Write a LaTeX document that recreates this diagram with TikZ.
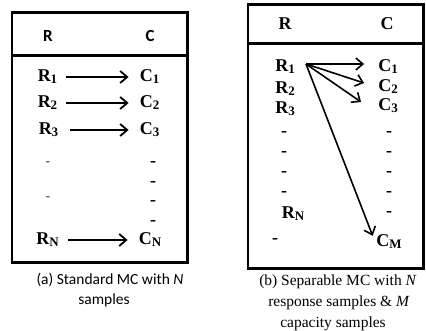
\documentclass[tikz,border=0pt]{standalone}
\usepackage{fontspec}
\setmainfont{Liberation Serif}
\newfontfamily\carlito{Carlito}
\usetikzlibrary{arrows.meta}
\newcommand{\subx}[1]{\raisebox{-0.08em}{\fontsize{13}{13}\selectfont #1}}
\begin{document}
\begin{tikzpicture}[x=1pt,y=-1pt,
  frame/.style={line width=2.6pt},
  lbl/.style={font=\fontsize{18}{18}\selectfont\bfseries, inner sep=0pt, text height=12pt, text depth=0pt},
  hdra/.style={font=\carlito\fontsize{17}{17}\selectfont\bfseries, inner sep=0pt, text height=11pt, text depth=0pt},
  dasha/.style={font=\carlito\fontsize{15}{15}\selectfont, text=black!75, inner sep=0pt, text height=0pt, text depth=0pt, yshift=-3.5pt},
  dashb/.style={font=\fontsize{18}{18}\selectfont\bfseries, inner sep=0pt, text height=0pt, text depth=0pt, yshift=-4pt},
  capa/.style={font=\carlito\fontsize{15.5}{15.5}\selectfont, inner sep=0pt, anchor=base},
  capb/.style={font=\fontsize{15.5}{15.5}\selectfont, inner sep=0pt, anchor=base},
  arr/.style={line width=1.8pt, -{Straight Barb[length=7pt,width=12pt]}}
]
\useasboundingbox (0,0) rectangle (426,331);
% ---------- panel (a) ----------
\draw[frame] (12,12.3) rectangle (187.5,262.7);
\draw[frame] (12,55.5) -- (187.5,55.5);
\node[hdra] (ahr) at (48,36) {R};
\node[hdra] (ahc) at (150,36) {C};
\node[lbl] (ar1) at (47.5,76) {R\subx{1}};
\node[lbl] (ar2) at (47.5,102) {R\subx{2}};
\node[lbl] (ar3) at (48.5,129) {R\subx{3}};
\node[lbl] (arn) at (47.5,239) {R\subx{N}};
\node[lbl] (ac1) at (149.5,76) {C\subx{1}};
\node[lbl] (ac2) at (149.5,102) {C\subx{2}};
\node[lbl] (ac3) at (149.5,129) {C\subx{3}};
\node[lbl] (acn) at (150,239) {C\subx{N}};
\node[dasha] (ad1) at (48,163) {-};
\node[dasha] (ad2) at (48,198) {-};
\node[dashb] (ae1) at (153,163) {-};
\node[dashb] (ae2) at (153,183) {-};
\node[dashb] (ae3) at (153,202) {-};
\node[dashb] (ae4) at (153,222) {-};
\draw[arr] ([xshift=9pt,yshift=-1pt]ar1.east) -- ([xshift=-11pt,yshift=-1pt]ac1.west);
\draw[arr] ([xshift=9pt,yshift=-1pt]ar2.east) -- ([xshift=-11pt,yshift=-1pt]ac2.west);
\draw[arr] ([xshift=12pt,yshift=-1pt]ar3.east) -- ([xshift=-11pt,yshift=-1pt]ac3.west);
\draw[arr] ([xshift=9pt,yshift=-1pt]arn.east) -- ([xshift=-11pt,yshift=-1pt]acn.west);
\node[capa] (acap1) at (110,285) {(a) Standard MC with \textit{N}};
\node[capa] (acap2) at (104,305) {samples};
% ---------- panel (b) ----------
\draw[frame] (248,4.3) rectangle (423.5,268.5);
\draw[frame] (248,43.3) -- (423.5,43.3);
\node[lbl] (bhr) at (285,24) {R};
\node[lbl] (bhc) at (387,24) {C};
\node[lbl] (br1) at (285,66) {R\subx{1}};
\node[lbl] (br2) at (285,88) {R\subx{2}};
\node[lbl] (br3) at (285,108) {R\subx{3}};
\node[lbl] (brn) at (293,213) {R\subx{N}};
\node[lbl] (bc1) at (388,66) {C\subx{1}};
\node[lbl] (bc2) at (388,86) {C\subx{2}};
\node[lbl] (bc3) at (388,105) {C\subx{3}};
\node[lbl] (bcm) at (389,241) {C\subx{M}};
\node[dashb] (bd1) at (284,133) {-};
\node[dashb] (bd2) at (284,153) {-};
\node[dashb] (bd3) at (284,173) {-};
\node[dashb] (bd4) at (284,193) {-};
\node[dashb] (bd5) at (275,240) {-};
\node[dashb] (be1) at (389,133) {-};
\node[dashb] (be2) at (389,153) {-};
\node[dashb] (be3) at (389,173) {-};
\node[dashb] (be4) at (389,193) {-};
\node[dashb] (be5) at (389,213) {-};
\coordinate (src) at (306,64);
\draw[arr,line width=1.6pt] (src) -- ([xshift=-14pt,yshift=2pt]bc1.west);
\draw[arr,line width=1.6pt] (src) -- ([xshift=-14pt,yshift=3pt]bc2.west);
\draw[arr,line width=1.6pt] (src) -- ([xshift=-17pt,yshift=3pt]bc3.west);
\draw[arr,line width=1.6pt] (src) -- ([xshift=-3.5pt,yshift=-1pt]bcm.north west);
\node[capb] (bcap1) at (338,286) {(b) Separable MC with \textit{N}};
\node[capb] (bcap2) at (339,307) {response samples \& \textit{M}};
\node[capb] (bcap3) at (333,327) {capacity samples};
\end{tikzpicture}
\end{document}
